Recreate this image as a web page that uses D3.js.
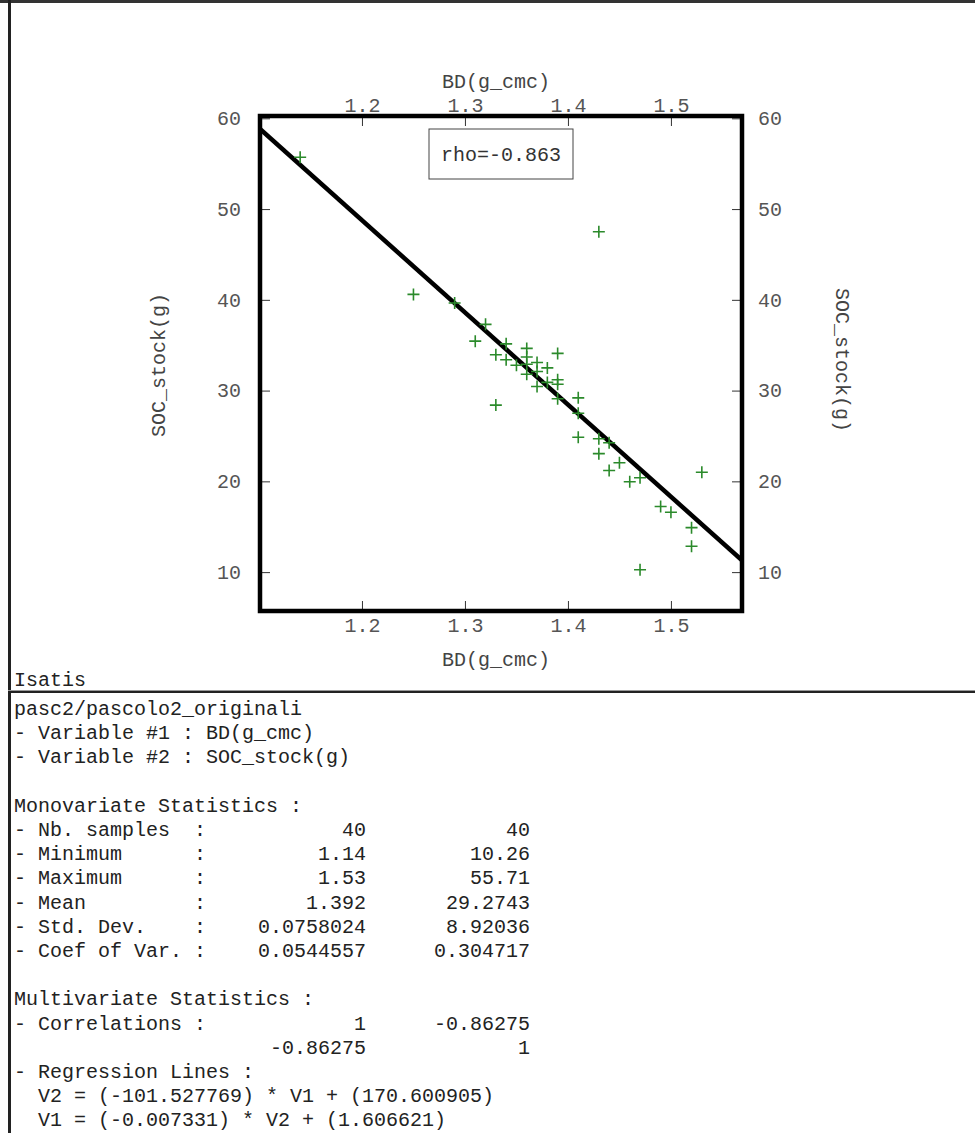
<!DOCTYPE html>
<html>
<head>
<meta charset="utf-8">
<script src="https://cdn.jsdelivr.net/npm/d3@7"></script>
<style>
  body { margin: 0; background: #fff; }
  text { font-family: "Liberation Mono", "DejaVu Sans Mono", monospace; }
</style>
</head>
<body>
<div id="chart"></div>
<script>
// scatter data (BD vs SOC stock)
var bd = [1.14, 1.43, 1.25, 1.29, 1.32, 1.31, 1.34, 1.33, 1.34, 1.36,
          1.36, 1.35, 1.36, 1.37, 1.37, 1.38, 1.37, 1.39, 1.39, 1.39,
          1.38, 1.41, 1.41, 1.41, 1.43, 1.44, 1.43, 1.45, 1.44, 1.46,
          1.47, 1.49, 1.50, 1.52, 1.52, 1.47, 1.53, 1.33, 1.39, 1.36];
var soc = [55.71, 47.5, 40.6, 39.65, 37.3, 35.45, 35.15, 33.95, 33.4, 34.65,
           33.7, 32.8, 31.8, 33.1, 32.1, 32.5, 30.45, 34.1, 31.2, 29.1,
           30.9, 29.2, 27.5, 24.86, 24.7, 24.25, 23.05, 22.05, 21.2, 19.95,
           20.4, 17.23, 16.6, 14.9, 12.85, 10.26, 21.0, 28.4, 30.7, 32.9];

var xTicks = [1.2, 1.3, 1.4, 1.5];
var yTicks = [10, 20, 30, 40, 50, 60];
var slope = -101.527769;
var intercept = 170.600905;
var rhoText = "rho=-0.863";

// report panel
var headerLines = ["pasc2/pascolo2_originali", "- Variable #1 : BD(g_cmc)", "- Variable #2 : SOC_stock(g)"];
var statLabels = ["- Nb. samples  :", "- Minimum      :", "- Maximum      :", "- Mean         :", "- Std. Dev.    :", "- Coef of Var. :"];
var statCol1 = ["40", "1.14", "1.53", "1.392", "0.0758024", "0.0544557"];
var statCol2 = ["40", "10.26", "55.71", "29.2743", "8.92036", "0.304717"];
var corrCol1 = ["1", "-0.86275"];
var corrCol2 = ["-0.86275", "1"];
var regLines = ["V2 = (-101.527769) * V1 + (170.600905)", "V1 = (-0.007331) * V2 + (1.606621)"];

var svgWidth = 975;
var svgHeight = 1133;

var plot = { left: 260, right: 742, top: 116, bottom: 611 };

var svg = d3.select("#chart")
  .append("svg")
  .attr("width", svgWidth)
  .attr("height", svgHeight);

// window borders
svg.append("rect").attr("x", 0).attr("y", 0).attr("width", svgWidth).attr("height", 3).attr("fill", "#333");
svg.append("rect").attr("x", 8).attr("y", 0).attr("width", 3).attr("height", svgHeight).attr("fill", "#222");

// 10% padding on data range
var xPad = (d3.max(bd) - d3.min(bd)) * 0.1;
var yPad = (d3.max(soc) - d3.min(soc)) * 0.1;

var x = d3.scaleLinear()
  .domain([d3.min(bd) - xPad, d3.max(bd) + xPad])
  .range([plot.left, plot.right]);

var y = d3.scaleLinear()
  .domain([d3.min(soc) - yPad, d3.max(soc) + yPad])
  .range([plot.bottom, plot.top]);

// axes with inward ticks on all four sides
function styleAxis(g) {
  g.select(".domain").remove();
  g.selectAll(".tick line").attr("stroke", "#333").attr("stroke-width", 1);
  g.selectAll(".tick text")
    .attr("fill", "#555")
    .style("font-size", "20px")
    .style("font-family", "'Liberation Mono', monospace");
}

svg.append("g")
  .attr("transform", `translate(0, ${plot.bottom})`)
  .call(d3.axisBottom(x).tickValues(xTicks).tickFormat(d3.format(".1f")).tickSize(-10).tickSizeOuter(0).tickPadding(7))
  .call(styleAxis);

svg.append("g")
  .attr("transform", `translate(0, ${plot.top})`)
  .call(d3.axisTop(x).tickValues(xTicks).tickFormat(d3.format(".1f")).tickSize(-10).tickSizeOuter(0).tickPadding(4))
  .call(styleAxis);

svg.append("g")
  .attr("transform", `translate(${plot.left}, 0)`)
  .call(d3.axisLeft(y).tickValues(yTicks).tickSize(-10).tickSizeOuter(0).tickPadding(19))
  .call(styleAxis);

svg.append("g")
  .attr("transform", `translate(${plot.right}, 0)`)
  .call(d3.axisRight(y).tickValues(yTicks).tickSize(-10).tickSizeOuter(0).tickPadding(16))
  .call(styleAxis);

// axis titles
svg.append("text")
  .attr("x", 496).attr("y", 81).attr("dy", "0.35em")
  .attr("text-anchor", "middle").attr("fill", "#444")
  .style("font-size", "20px")
  .text("BD(g_cmc)");

svg.append("text")
  .attr("x", 496).attr("y", 659).attr("dy", "0.35em")
  .attr("text-anchor", "middle").attr("fill", "#444")
  .style("font-size", "20px")
  .text("BD(g_cmc)");

svg.append("text")
  .attr("transform", "translate(158, 365) rotate(-90)")
  .attr("dy", "0.35em")
  .attr("text-anchor", "middle").attr("fill", "#444")
  .style("font-size", "20px")
  .text("SOC_stock(g)");

svg.append("text")
  .attr("transform", "translate(843, 360) rotate(90)")
  .attr("dy", "0.35em")
  .attr("text-anchor", "middle").attr("fill", "#444")
  .style("font-size", "20px")
  .text("SOC_stock(g)");

// regression line, clipped to the frame
svg.append("clipPath").attr("id", "plotClip")
  .append("rect")
  .attr("x", plot.left).attr("y", plot.top)
  .attr("width", plot.right - plot.left).attr("height", plot.bottom - plot.top);

var xDom = x.domain();
svg.append("line")
  .attr("clip-path", "url(#plotClip)")
  .attr("x1", x(xDom[0])).attr("y1", y(slope * xDom[0] + intercept))
  .attr("x2", x(xDom[1])).attr("y2", y(slope * xDom[1] + intercept))
  .attr("stroke", "#000")
  .attr("stroke-width", 4.5);

// points as + markers
var pts = bd.map(function(v, i) { return { bd: v, soc: soc[i] }; });

svg.append("g")
  .selectAll("path")
  .data(pts)
  .enter()
  .append("path")
  .attr("transform", d => `translate(${x(d.bd)}, ${y(d.soc)})`)
  .attr("d", "M-6,0H6M0,-6V6")
  .attr("stroke", "#2b8a2b")
  .attr("stroke-width", 1.6)
  .attr("fill", "none");

// frame
svg.append("rect")
  .attr("x", plot.left).attr("y", plot.top)
  .attr("width", plot.right - plot.left).attr("height", plot.bottom - plot.top)
  .attr("fill", "none")
  .attr("stroke", "#000")
  .attr("stroke-width", 4.5);

// rho box
svg.append("rect")
  .attr("x", 429).attr("y", 129).attr("width", 144).attr("height", 50)
  .attr("fill", "#fff").attr("stroke", "#444").attr("stroke-width", 1);

svg.append("text")
  .attr("x", 501).attr("y", 154).attr("dy", "0.35em")
  .attr("text-anchor", "middle").attr("fill", "#333")
  .style("font-size", "20px")
  .text(rhoText);

// report text
var panel = svg.append("g")
  .attr("fill", "#222")
  .style("font-size", "20px");

var lineH = 24.2;
var textX = 14;
var col1X = 366;
var col2X = 530;

function addLine(str, xx, yy, anchor) {
  panel.append("text")
    .attr("x", xx).attr("y", yy).attr("dy", "0.35em")
    .attr("text-anchor", anchor || "start")
    .attr("xml:space", "preserve")
    .style("white-space", "pre")
    .text(str);
}

addLine("Isatis", textX, 679);

// separator under the graph
svg.append("rect").attr("x", 8).attr("y", 690).attr("width", svgWidth - 8).attr("height", 1).attr("fill", "#999");
svg.append("rect").attr("x", 8).attr("y", 691).attr("width", svgWidth - 8).attr("height", 2).attr("fill", "#222");

var y0 = 708;
headerLines.forEach(function(s, i) { addLine(s, textX, y0 + i * lineH); });

var yMono = y0 + 4 * lineH;
addLine("Monovariate Statistics :", textX, yMono);
statLabels.forEach(function(s, i) {
  var yy = yMono + (i + 1) * lineH;
  addLine(s, textX, yy);
  addLine(statCol1[i], col1X, yy, "end");
  addLine(statCol2[i], col2X, yy, "end");
});

var yMulti = yMono + 8 * lineH;
addLine("Multivariate Statistics :", textX, yMulti);
addLine("- Correlations :", textX, yMulti + lineH);
corrCol1.forEach(function(s, i) {
  addLine(s, col1X, yMulti + (i + 1) * lineH, "end");
  addLine(corrCol2[i], col2X, yMulti + (i + 1) * lineH, "end");
});
addLine("- Regression Lines :", textX, yMulti + 3 * lineH);
regLines.forEach(function(s, i) {
  addLine(s, textX + 24, yMulti + (4 + i) * lineH);
});
</script>
</body>
</html>
